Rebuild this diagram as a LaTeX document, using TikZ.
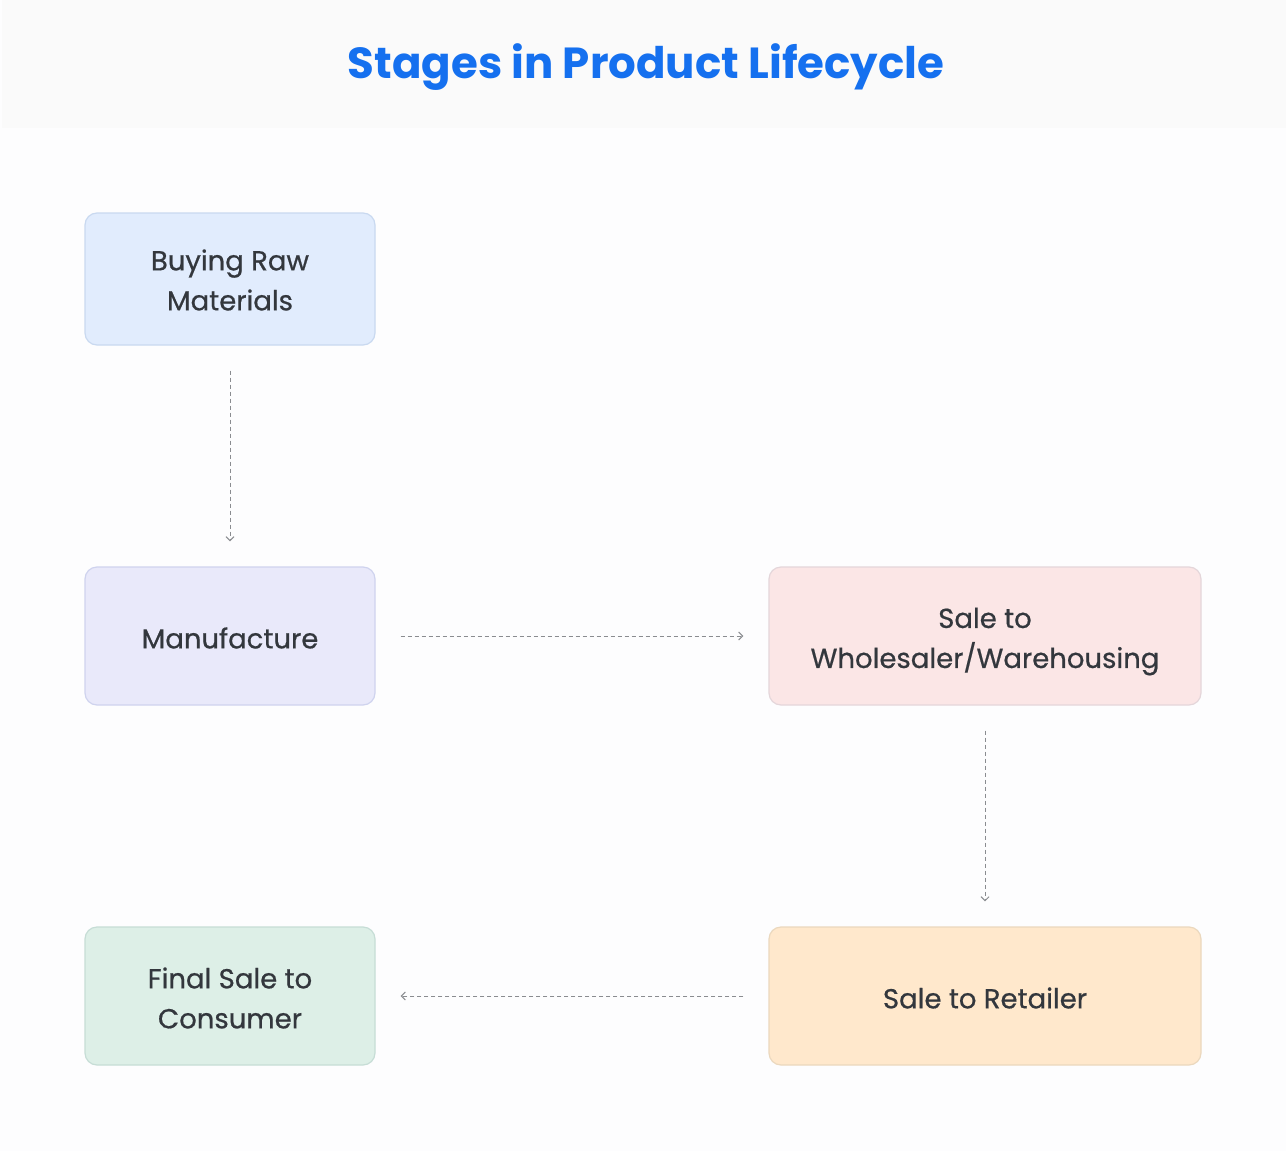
\documentclass[tikz,border=0pt]{standalone}
\usepackage{fontspec}
\setmainfont{Poppins}
\newfontfamily\boxfont[FakeBold=0.6]{Poppins}
\usetikzlibrary{arrows.meta}
\definecolor{bgc}{HTML}{FDFDFE}
\definecolor{bandc}{HTML}{FAFAFA}
\definecolor{titlec}{HTML}{1570EF}
\definecolor{txtc}{HTML}{33373D}
\definecolor{linec}{HTML}{8A8C90}
\definecolor{f1}{HTML}{E1ECFD}\definecolor{d1}{HTML}{C9D9F0}
\definecolor{f2}{HTML}{E9E9FA}\definecolor{d2}{HTML}{CFD3EE}
\definecolor{f3}{HTML}{FBE6E6}\definecolor{d3}{HTML}{E4D6DA}
\definecolor{f4}{HTML}{FFE8CC}\definecolor{d4}{HTML}{EBD8BE}
\definecolor{f5}{HTML}{DDEFE7}\definecolor{d5}{HTML}{C6DDD6}
\tikzset{
  stagebox/.style={draw, line width=1.2pt, rounded corners=12pt, inner sep=0pt},
  lbl/.style={align=center, text=txtc, font=\boxfont\fontsize{27.5}{40}\selectfont, inner sep=0pt},
  flow/.style={draw=linec, line width=1pt, dash pattern=on 4pt off 3pt,
    -{Straight Barb[length=4pt,width=8pt,line width=1pt]}, shorten >=25pt, shorten <=25pt},
}
\begin{document}
\begin{tikzpicture}[x=1pt,y=-1pt]
\fill[bgc] (0,0) rectangle (1286,1151);
\fill[bandc] (2,0) rectangle (1286,128);
\useasboundingbox (0,0) rectangle (1286,1151);
\node[text=titlec, font=\fontsize{43.5}{52}\selectfont\bfseries] (title) at (646,67) {Stages in Product Lifecycle};
\node[stagebox, fill=f1, draw=d1, minimum width=290pt, minimum height=132pt] (b1) at (230,279) {};
\node[stagebox, fill=f2, draw=d2, minimum width=290pt, minimum height=138pt] (b2) at (230,636) {};
\node[stagebox, fill=f3, draw=d3, minimum width=432pt, minimum height=138pt] (b3) at (985,636) {};
\node[stagebox, fill=f4, draw=d4, minimum width=432pt, minimum height=138pt] (b4) at (985,996) {};
\node[stagebox, fill=f5, draw=d5, minimum width=290pt, minimum height=138pt] (b5) at (230,996) {};
\node[lbl] (t1) at ([yshift=-1pt]b1.center) {Buying Raw\\Materials};
\node[lbl] (t2) at ([yshift=-2pt]b2.center) {Manufacture};
\node[lbl] (t3) at ([yshift=-5.5pt]b3.center) {Sale to\\Wholesaler/Warehousing};
\node[lbl] (t4) at ([yshift=-2pt]b4.center) {Sale to Retailer};
\node[lbl] (t5) at ([yshift=-2pt]b5.center) {Final Sale to\\Consumer};
\draw[flow] (b1.south) -- (b2.north);
\draw[flow] (b2.east) -- (b3.west);
\draw[flow] (b3.south) -- (b4.north);
\draw[flow] (b4.west) -- (b5.east);
\end{tikzpicture}
\end{document}
